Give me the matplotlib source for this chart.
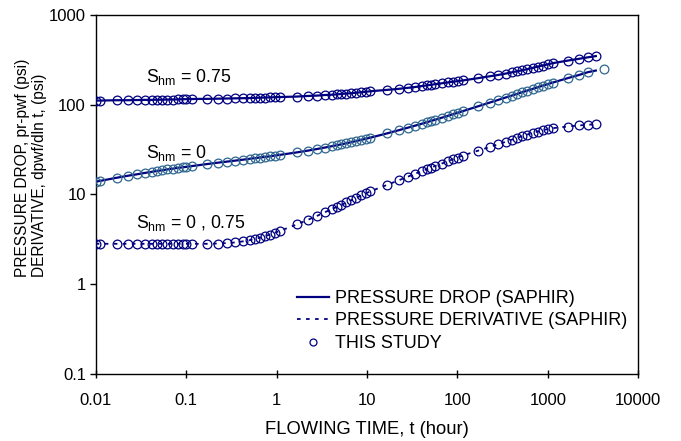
import matplotlib
matplotlib.use("Agg")
import matplotlib.pyplot as plt
from matplotlib.lines import Line2D

plt.rcParams['font.family'] = ['Liberation Sans', 'DejaVu Sans']
plt.rcParams['mathtext.fontset'] = 'custom'
plt.rcParams['mathtext.rm'] = 'Liberation Sans'
plt.rcParams['mathtext.it'] = 'Liberation Sans:italic'

# Flowing time (hour)
T = [0.0100, 0.0112, 0.0172, 0.0228, 0.0286, 0.0350, 0.0420, 0.0476, 0.0540, 0.0610,
     0.0710, 0.0810, 0.0920, 0.100, 0.115, 0.169, 0.224, 0.280, 0.346, 0.424,
     0.507, 0.576, 0.655, 0.743, 0.844, 0.958, 1.09, 1.67, 2.23, 2.77,
     3.42, 4.05, 4.60, 5.22, 5.93, 6.73, 7.64, 8.69, 9.70, 10.9,
     16.6, 22.4, 28.3, 33.7, 40.3, 45.8, 50.7, 56.1, 67.0, 78.0,
     88.5, 100.7, 114, 167, 227, 279, 341, 398, 452, 513,
     583, 679, 772, 877, 995, 1130, 1660, 2190, 2760, 3390]

# Pressure drop, S_hm = 0.75 (psi)
P_075 = [111, 111, 112, 112, 112.5, 113, 113, 113.5, 113.5, 114,
         114, 114.5, 115, 115, 115.5, 116, 116.5, 117, 117.5, 118,
         118.5, 119, 119.5, 120, 120.5, 121, 121.5, 123, 125, 126,
         128, 129, 130, 131.5, 133, 134, 136, 137.5, 139, 141,
         146, 150, 154, 157, 161, 164, 166, 169, 173, 177,
         180, 183, 186, 197, 207, 214, 222, 229, 235, 241,
         248, 257, 265, 273, 281, 290, 310, 324, 337, 348]

# Pressure drop, S_hm = 0 (psi) -- last study point at 4200 h
T_MID_LAST = 4200
P_0 = [13.8, 14.1, 15.3, 16.1, 16.7, 17.3, 17.8, 18.2, 18.5, 18.9,
       19.3, 19.7, 20.0, 20.2, 20.6, 21.7, 22.5, 23.1, 23.7, 24.3,
       24.9, 25.3, 25.7, 26.1, 26.5, 27.0, 27.5, 29.3, 30.7, 31.9,
       33.2, 34.3, 35.2, 36.1, 37.1, 38.2, 39.3, 40.5, 41.6, 42.8,
       47.7, 51.8, 55.3, 58.1, 61.2, 63.6, 65.6, 67.6, 71.4, 74.9,
       77.9, 81.1, 84.4, 95.4, 105.3, 112.5, 120.0, 126.1, 131.4, 136.9,
       142.7, 149.9, 156.2, 162.7, 169.3, 176.1, 197.6, 213.6, 230.0, 252.0]
P_0_LINE_END = 240.0

# Pressure derivative, S_hm = 0 and 0.75 (psi)
DP = [2.8, 2.8, 2.8, 2.8, 2.8, 2.8, 2.8, 2.8, 2.8, 2.8,
      2.8, 2.8, 2.8, 2.8, 2.8, 2.8, 2.82, 2.85, 2.9, 2.98,
      3.08, 3.17, 3.28, 3.4, 3.55, 3.72, 3.9, 4.6, 5.2, 5.7,
      6.3, 6.8, 7.2, 7.6, 8.1, 8.6, 9.1, 9.7, 10.2, 10.8,
      12.7, 14.3, 15.7, 16.9, 18.1, 19.0, 19.8, 20.6, 22.0, 23.3,
      24.5, 25.7, 27.0, 30.5, 33.6, 36.0, 38.5, 40.6, 42.4, 44.2,
      46.1, 48.3, 50.1, 51.8, 53.3, 54.6, 57.0, 58.5, 59.6, 60.5]

X_TICKS = [0.01, 0.1, 1, 10, 100, 1000, 10000]
X_TICKLABELS = ['0.01', '0.1', '1', '10', '100', '1000', '10000']
Y_TICKS = [0.1, 1, 10, 100, 1000]
Y_TICKLABELS = ['0.1', '1', '10', '100', '1000']

NAVY = '#000080'
TEAL = '#2e6690'

fig = plt.figure(figsize=(6.81, 4.41), dpi=100)
ax = fig.add_axes([95.7/681, 1-373.5/441, (638.3-95.7)/681, (373.5-15)/441])

t_mid = T[:-1] + [T_MID_LAST]
t_mid_line = T[:-1] + [T[-1]]
p_mid_line = P_0[:-1] + [P_0_LINE_END]

ms = 6.3
mew = 0.9
# lines
ax.plot(T, P_075, color=NAVY, lw=1.6, zorder=2)
ax.plot(t_mid_line, p_mid_line, color=NAVY, lw=1.6, zorder=2)
ax.plot(T, DP, color=NAVY, lw=1.3, ls=(0, (2, 3)), zorder=2)
# markers
ax.plot(T, P_075, ls='none', marker='o', ms=ms, mfc='none', mec=NAVY, mew=mew, zorder=3)
ax.plot(t_mid, P_0, ls='none', marker='o', ms=ms, mfc='none', mec=TEAL, mew=mew, zorder=3)
ax.plot(T, DP, ls='none', marker='o', ms=ms, mfc='none', mec=NAVY, mew=mew, zorder=3)

ax.set_xscale('log')
ax.set_yscale('log')
ax.set_xlim(0.01, 10000)
ax.set_ylim(0.1, 1000)
ax.set_xticks(X_TICKS)
ax.set_xticklabels(X_TICKLABELS)
ax.set_yticks(Y_TICKS)
ax.set_yticklabels(Y_TICKLABELS)
ax.minorticks_off()
ax.tick_params(axis='x', direction='inout', length=6, width=1, labelsize=12, pad=11)
ax.tick_params(axis='y', direction='out', length=4, width=1, labelsize=12, pad=3)
for s in ax.spines.values():
    s.set_linewidth(1.0)

fig.text(367/681, 1-430/441, 'FLOWING TIME, t (hour)', fontsize=13.2, ha='center', va='center')
fig.text(31/681, 1-277/441, 'PRESSURE DROP, pr-pwf (psi)\nDERIVATIVE, dpwf/dln t, (psi)',
         rotation=90, fontsize=11.2, ha='center', va='bottom', multialignment='left',
         linespacing=1.2)

fig.text(146/681, 1-82/441, r'S$_{\rm hm}$ = 0.75', fontsize=12.7, va='baseline')
fig.text(146/681, 1-158/441, r'S$_{\rm hm}$ = 0', fontsize=12.7, va='baseline')
fig.text(136/681, 1-228/441, r'S$_{\rm hm}$ = 0 , 0.75', fontsize=12.7, va='baseline')

handles = [Line2D([], [], color=NAVY, lw=1.6),
           Line2D([], [], color=NAVY, lw=1.3, ls=(0, (2, 3))),
           Line2D([], [], ls='none', marker='o', ms=5, mfc='none', mec=NAVY, mew=mew)]
labels = ['PRESSURE DROP (SAPHIR)', 'PRESSURE DERIVATIVE (SAPHIR)', 'THIS STUDY']
fig.legend(handles, labels, loc='upper left', bbox_to_anchor=(297/681, 1-290/441),
           bbox_transform=fig.transFigure, frameon=False, fontsize=13,
           borderpad=0, borderaxespad=0, handlelength=1.75, handletextpad=0.35,
           labelspacing=0.3)

fig.savefig('out.png', dpi=100)
